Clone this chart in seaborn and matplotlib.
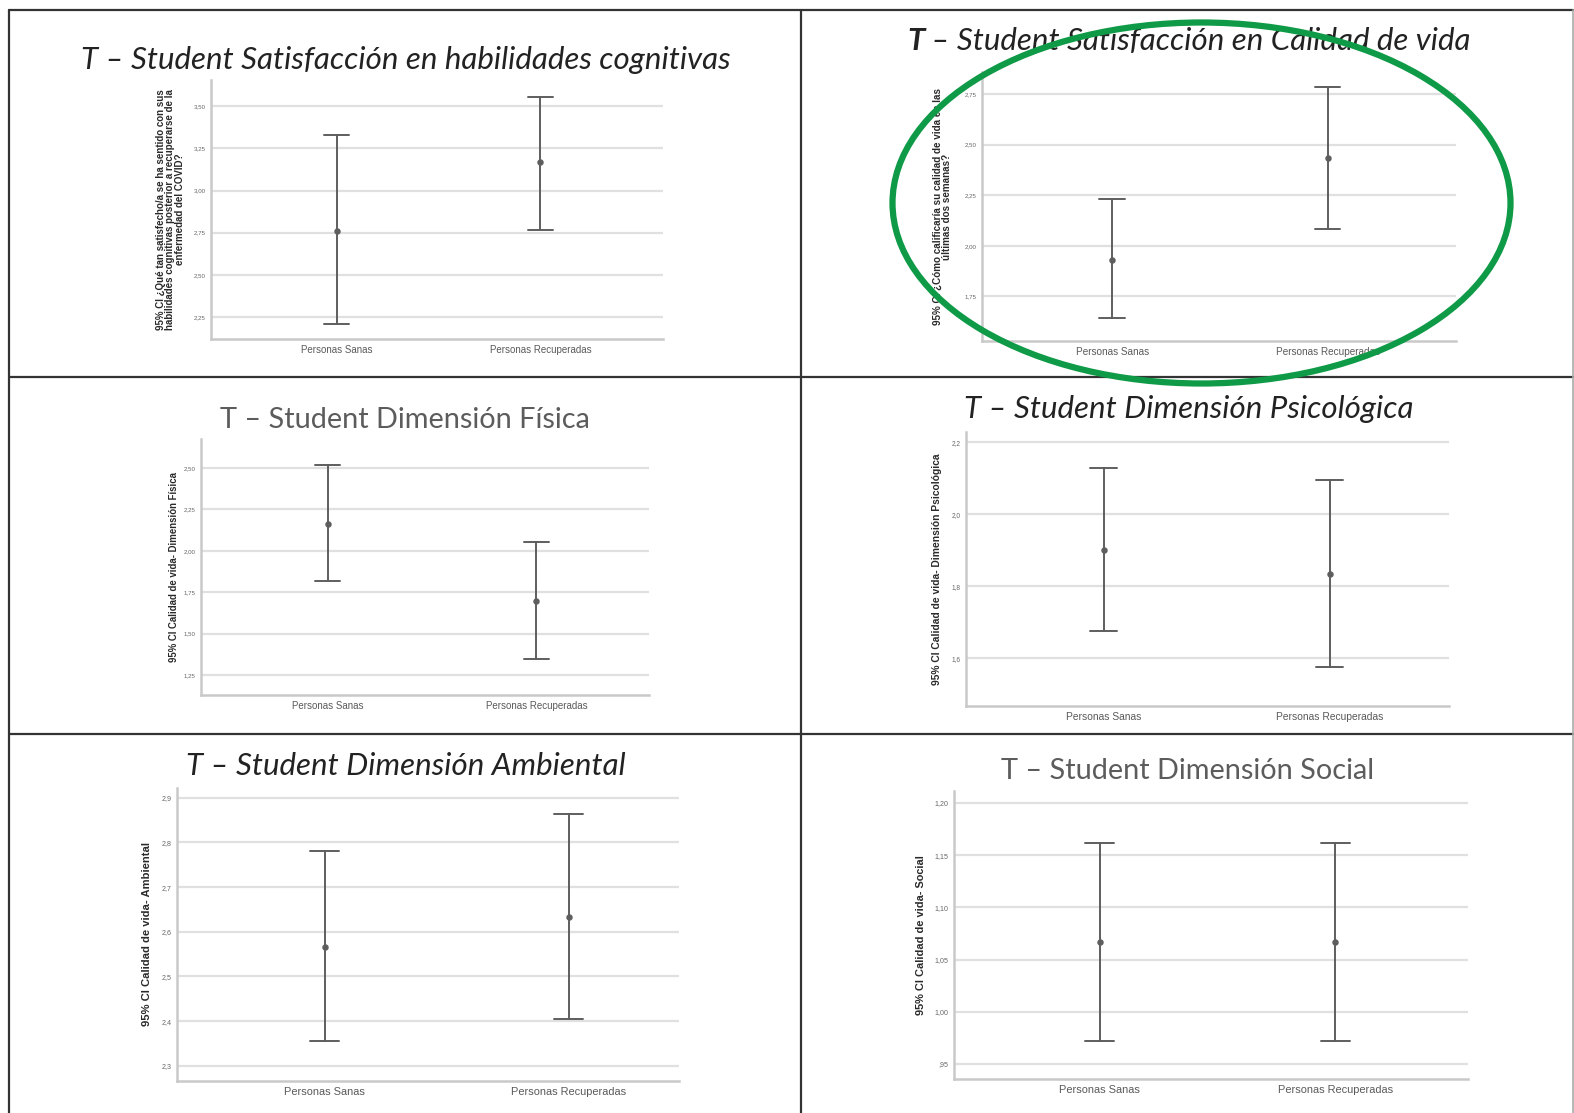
import numpy as np
import pandas as pd
import matplotlib
matplotlib.use("Agg")
import matplotlib.pyplot as plt
import seaborn as sns
from matplotlib.lines import Line2D
from matplotlib.patches import Ellipse
from matplotlib.ticker import FuncFormatter

sns.set_theme(style="white")
plt.rcParams['font.family'] = ['Liberation Sans', 'DejaVu Sans']

# ---------------- data ----------------
categorias = ["Personas Sanas", "Personas Recuperadas"]

titulos = [
    "T – Student Satisfacción en habilidades cognitivas",
    "T – Student Satisfacción en Calidad de vida",
    "T – Student Dimensión Física",
    "T – Student Dimensión Psicológica",
    "T – Student Dimensión Ambiental",
    "T – Student Dimensión Social",
]

ylabels = [
    "95% CI ¿Qué tan satisfecho/a se ha sentido con sus\nhabilidades cognitivas posterior a recuperarse de la\nenfermedad del COVID?",
    "95% CI ¿Cómo calificaría su calidad de vida en las\núltimas dos semanas?",
    "95% CI Calidad de vida- Dimensión Física",
    "95% CI Calidad de vida- Dimensión Psicológica",
    "95% CI Calidad de vida- Ambiental",
    "95% CI Calidad de vida- Social",
]

media_cognitivas = [2.762, 3.168]
inf_cognitivas = [2.208, 2.768]
sup_cognitivas = [3.328, 3.553]

media_calidad = [1.931, 2.434]
inf_calidad = [1.642, 2.082]
sup_calidad = [2.229, 2.784]

media_fisica = [2.165, 1.700]
inf_fisica = [1.815, 1.347]
sup_fisica = [2.518, 2.055]

media_psico = [1.900, 1.834]
inf_psico = [1.675, 1.574]
sup_psico = [2.127, 2.094]

media_ambiental = [2.567, 2.634]
inf_ambiental = [2.355, 2.404]
sup_ambiental = [2.780, 2.863]

media_social = [1.0665, 1.0665]
inf_social = [0.972, 0.972]
sup_social = [1.162, 1.162]

ticks_cognitivas = [2.25, 2.50, 2.75, 3.00, 3.25, 3.50]
ticks_calidad = [1.75, 2.00, 2.25, 2.50, 2.75]
ticks_fisica = [1.25, 1.50, 1.75, 2.00, 2.25, 2.50]
ticks_psico = [1.6, 1.8, 2.0, 2.2]
ticks_ambiental = [2.3, 2.4, 2.5, 2.6, 2.7, 2.8, 2.9]
ticks_social = [0.95, 1.00, 1.05, 1.10, 1.15, 1.20]

series = [
    (media_cognitivas, inf_cognitivas, sup_cognitivas, ticks_cognitivas, 2),
    (media_calidad, inf_calidad, sup_calidad, ticks_calidad, 2),
    (media_fisica, inf_fisica, sup_fisica, ticks_fisica, 2),
    (media_psico, inf_psico, sup_psico, ticks_psico, 1),
    (media_ambiental, inf_ambiental, sup_ambiental, ticks_ambiental, 1),
    (media_social, inf_social, sup_social, ticks_social, 2),
]

# ---------------- layout (pixels) ----------------
W, H = 1574, 1113
fig = plt.figure(figsize=(W / 100, H / 100), dpi=100)

# (left, right, top, bottom) in px
boxes = [
    (211, 663, 80, 339),
    (982, 1456, 72, 341),
    (201, 649, 439, 695),
    (966, 1449, 432, 706),
    (177, 679, 788, 1081),
    (954, 1468, 791, 1079),
]
ylims = [(2.12, 3.655), (1.53, 2.858), (1.129, 2.676), (1.467, 2.228), (2.266, 2.922), (0.9356, 1.2115)]
xlims = [(-0.616, 1.601), (-0.606, 1.597), (-0.607, 1.539), (-0.609, 1.528), (-0.605, 1.453), (-0.617, 1.562)]
ylab_off = [26, 30, 22, 24, 25, 28]
ylab_fs = [7.0, 7.1, 6.9, 7.4, 8.1, 7.9]
xt_fs = [7.0, 7.2, 7.0, 7.4, 7.9, 7.9]
yt_fs = [4.4, 4.4, 4.4, 4.7, 5.1, 5.1]

grid_c = "#e0e0e0"
spine_c = "#c9c9c9"
bar_c = "#5e5e5e"


def make_fmt(dec):
    def f(v, pos):
        s = f"{v:.{dec}f}".replace(".", ",")
        if s.startswith("0,"):
            s = s[1:]
        return s
    return FuncFormatter(f)


for i, (media, inf, sup, ticks, dec) in enumerate(series):
    l, r, t, b = boxes[i]
    ax = fig.add_axes([l / W, 1 - b / H, (r - l) / W, (b - t) / H])
    rows = []
    for c, lo, m, hi in zip(categorias, inf, media, sup):
        for v in (lo, m, hi):
            rows.append({"grupo": c, "valor": v})
    df = pd.DataFrame(rows)
    sns.pointplot(data=df, x="grupo", y="valor", order=categorias, ax=ax,
                  estimator="median", errorbar=lambda v: (np.min(v), np.max(v)),
                  color=bar_c, markers="o", linestyles="none", markersize=2.6,
                  capsize=0.12, err_kws={"linewidth": 1.4})
    ax.set_xlim(*xlims[i])
    ax.set_ylim(*ylims[i])
    ax.set_yticks(ticks)
    ax.yaxis.set_major_formatter(make_fmt(dec))
    ax.grid(axis="y", color=grid_c, linewidth=1.6)
    ax.set_axisbelow(True)
    for s in ["top", "right"]:
        ax.spines[s].set_visible(False)
    for s in ["left", "bottom"]:
        ax.spines[s].set_color(spine_c)
        ax.spines[s].set_linewidth(1.8)
    ax.tick_params(axis="both", length=0)
    ax.tick_params(axis="y", labelsize=yt_fs[i], labelcolor="#666666", pad=4)
    ax.tick_params(axis="x", labelsize=xt_fs[i], labelcolor="#5a5a5a", pad=4)
    ax.set_xlabel("")
    ax.set_ylabel(ylabels[i], fontsize=ylab_fs[i], fontweight="bold", color="#2a2a2a",
                  linespacing=0.95)
    ax.yaxis.set_label_coords(-ylab_off[i] / (r - l), 0.5)

# ---------------- titles ----------------
tfont = ['Lato', 'DejaVu Sans']
tc = "#222222"
tfs = 22.5
fig.text(406 / W, 1 - 60 / H, titulos[0], ha="center", va="center", fontsize=tfs,
         style="italic", family=tfont, color=tc)
# title 2 with bold T
tT = fig.text(907 / W, 1 - 41 / H, "T", ha="left", va="center", fontsize=tfs,
              style="italic", fontweight="bold", family=tfont, color=tc)
fig.canvas.draw()
bb = tT.get_window_extent()
fig.text(bb.x1 / W, 1 - 41 / H, titulos[1][1:], ha="left", va="center", fontsize=tfs,
         style="italic", family=tfont, color=tc)
fig.text(405 / W, 1 - 420 / H, titulos[2], ha="center", va="center", fontsize=20.8,
         fontweight="normal", family=tfont, color="#5c5c5c")
fig.text(1189 / W, 1 - 409 / H, titulos[3], ha="center", va="center", fontsize=tfs,
         style="italic", family=tfont, color=tc)
fig.text(406 / W, 1 - 766 / H, titulos[4], ha="center", va="center", fontsize=tfs,
         style="italic", family=tfont, color=tc)
fig.text(1188 / W, 1 - 771 / H, titulos[5], ha="center", va="center", fontsize=20.8,
         fontweight="normal", family=tfont, color="#5c5c5c")

# ---------------- table lines ----------------
def hline(y, x0, x1, c="#333333", lw=1.6):
    fig.add_artist(Line2D([x0 / W, x1 / W], [1 - y / H, 1 - y / H], color=c, lw=lw,
                          transform=fig.transFigure))


def vline(x, y0, y1, c="#333333", lw=1.6):
    fig.add_artist(Line2D([x / W, x / W], [1 - y0 / H, 1 - y1 / H], color=c, lw=lw,
                          transform=fig.transFigure))


hline(9.5, 9, 1573)
hline(376.5, 9, 1573)
hline(734, 9, 1573)
vline(9, 9.5, 1113)
vline(801, 9.5, 1113)
vline(1572.5, 9.5, 1113, c="#aaaaaa", lw=1.2)

# ---------------- green ellipse ----------------
ell = Ellipse((1201.5 / W, 1 - 203 / H), 618 / W, 361 / H, transform=fig.transFigure,
              fill=False, edgecolor="#0e9a46", linewidth=4.5, zorder=10)
fig.add_artist(ell)

fig.savefig("out.png", dpi=100, facecolor="white")
